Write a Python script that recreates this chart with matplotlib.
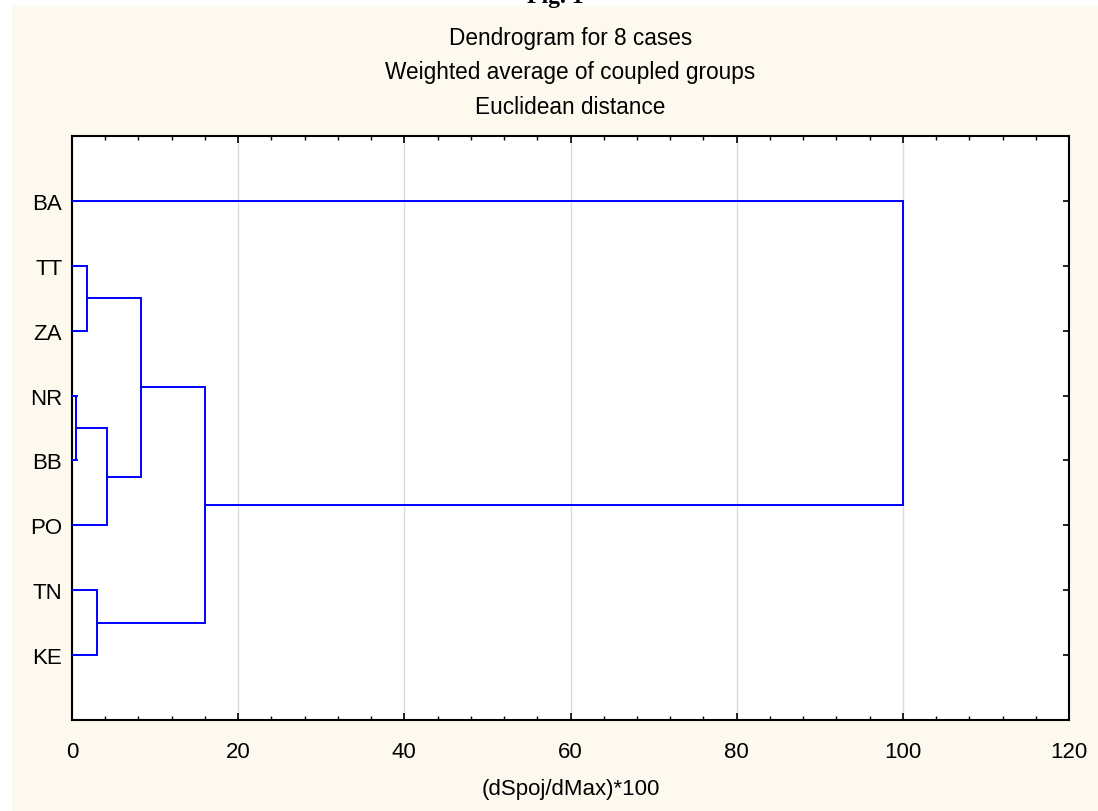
import matplotlib
matplotlib.use("Agg")
import matplotlib.pyplot as plt
from matplotlib.patches import Rectangle
from matplotlib.ticker import MultipleLocator

# ---- data ----
cases = ["BA", "TT", "ZA", "NR", "BB", "PO", "TN", "KE"]   # top to bottom
# merges: (left member, right member, linkage distance (dSpoj/dMax)*100)
# C1..C7 are the clusters created by each merge, in order
merge_a = ["NR", "TT", "TN", "C1", "C2", "C5", "BA"]
merge_b = ["BB", "ZA", "KE", "PO", "C4", "C3", "C6"]
merge_h = [0.45, 1.85, 2.95, 4.2, 8.35, 16.0, 100.0]
x_ticks = [0, 20, 40, 60, 80, 100, 120]

title_lines = ["Dendrogram for 8 cases",
               "Weighted average of coupled groups",
               "Euclidean distance"]
x_label = "(dSpoj/dMax)*100"

FONT = "Liberation Sans"
CREAM = "#FDF9EF"
W, H = 1098, 812

fig = plt.figure(figsize=(W / 100, H / 100), dpi=100, facecolor="white")
fig.patches.append(Rectangle((12 / W, 0), 1 - 12 / W, 1 - 7 / H,
                             transform=fig.transFigure, facecolor=CREAM,
                             edgecolor="none", zorder=-10))
fig.text(555 / W, 1 - 3 / H, "Fig. 1", ha="center", va="baseline",
         family="Liberation Serif", weight="bold", fontsize=17, zorder=5)

for i, line in enumerate(title_lines):
    fig.text(0.5 * (72 + 1069) / W, 1 - (38 + 35 * i) / H, line,
             ha="center", va="center", family=FONT, fontsize=16.3, zorder=5)

ax = fig.add_axes([72 / W, 1 - 721 / H, (1069 - 72) / W, (721 - 137) / H])
ax.set_facecolor("white")

n = len(cases)
ypos = {c: n - i for i, c in enumerate(cases)}
xpos = {c: 0.0 for c in cases}
for k, (a, b, h) in enumerate(zip(merge_a, merge_b, merge_h)):
    ya, yb = ypos[a], ypos[b]
    xa, xb = xpos[a], xpos[b]
    ax.plot([xa, h, h, xb], [ya, ya, yb, yb], color="#0000FF", lw=1.4,
            solid_joinstyle="miter", zorder=3)
    name = "C%d" % (k + 1)
    ypos[name] = (ya + yb) / 2
    xpos[name] = h

ax.set_xlim(0, 120)
ax.set_ylim(0, n + 1)
ax.set_xticks(x_ticks)
ax.xaxis.set_minor_locator(MultipleLocator(4))
ax.set_yticks([ypos[c] for c in cases])
ax.set_yticklabels(cases)
ax.grid(axis="x", which="major", color="#DCDCDC", lw=1.0, zorder=1)
ax.set_axisbelow(True)

for s in ax.spines.values():
    s.set_linewidth(1.5)
    s.set_color("black")

ax.tick_params(axis="both", which="major", direction="in", length=5, width=1.2,
               top=True, right=True, labelsize=16, colors="black")
ax.tick_params(axis="x", which="minor", direction="in", length=3, width=1.0,
               top=True, bottom=True)
ax.tick_params(axis="y", which="major", length=4, pad=7)
ax.tick_params(axis="x", which="major", pad=15)
for lab in ax.get_xticklabels() + ax.get_yticklabels():
    lab.set_family(FONT)

ax.set_xlabel(x_label, family=FONT, fontsize=16, labelpad=12)

fig.savefig("out.png", dpi=100, facecolor=fig.get_facecolor())
